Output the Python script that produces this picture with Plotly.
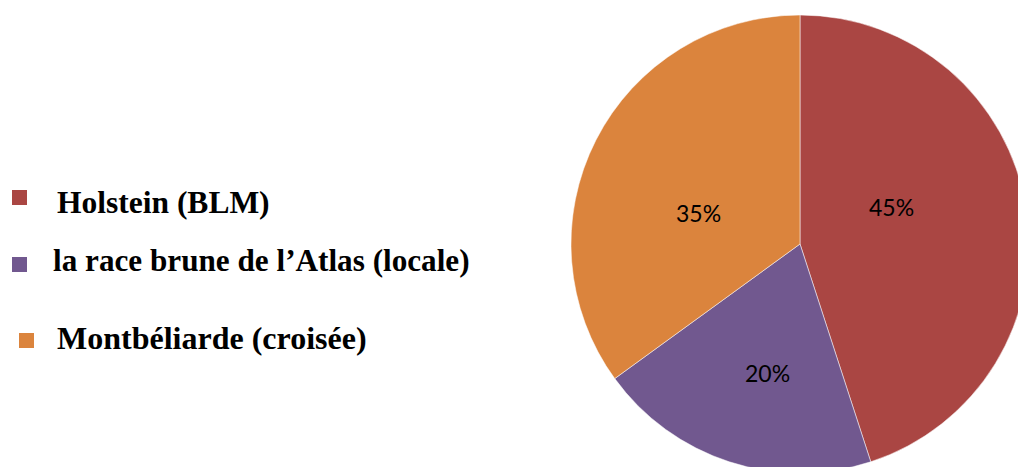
import plotly.graph_objects as go

# ---- data ----
categories = ["Holstein (BLM)", "la race brune de l\u2019Atlas (locale)", "Montbéliarde (croisée)"]
values = [45, 20, 35]
colors = ["#AA4643", "#71588F", "#DB843D"]

# ---- layout constants (pixels) ----
W, H = 1040, 480
pie_left, pie_right, pie_top, pie_bottom = 571, 1029, 15, 473

legend_text_x = [55, 51, 55]
legend_text_y = [202, 260, 338]
legend_font = [31.5, 31.2, 32]
legend_sq_x = [12, 12, 19]
legend_sq_y = [190, 257, 333]
SQ = 15

# pixel centres of the percentage labels
pct_label_x = [891, 767, 698]
pct_label_y = [207, 373, 213]

fig = go.Figure()
fig.add_trace(go.Pie(
    labels=categories,
    values=values,
    marker=dict(colors=colors, line=dict(color="rgba(255,255,255,0.5)", width=1)),
    sort=False,
    direction="clockwise",
    rotation=0,
    textinfo="none",
    showlegend=False,
    hoverinfo="label+percent",
    domain=dict(x=[pie_left / W, pie_right / W], y=[1 - pie_bottom / H, 1 - pie_top / H]),
))

total = sum(values)
shapes = []
annotations = []
for i, lab in enumerate(categories):
    shapes.append(dict(
        type="rect", xref="paper", yref="paper",
        x0=legend_sq_x[i] / W, x1=(legend_sq_x[i] + SQ) / W,
        y0=1 - (legend_sq_y[i] + SQ) / H, y1=1 - legend_sq_y[i] / H,
        fillcolor=colors[i], line=dict(width=0),
    ))
    annotations.append(dict(
        text="<b>" + lab + "</b>", xref="paper", yref="paper",
        x=legend_text_x[i] / W, y=1 - legend_text_y[i] / H,
        xanchor="left", yanchor="middle", showarrow=False,
        font=dict(family="Liberation Serif, Times New Roman, serif", size=legend_font[i], color="#000000"),
    ))
    annotations.append(dict(
        text=f"{round(100 * values[i] / total)}%", xref="paper", yref="paper",
        x=pct_label_x[i] / W, y=1 - pct_label_y[i] / H,
        xanchor="center", yanchor="middle", showarrow=False,
        font=dict(family="Lato, Open Sans, sans-serif", size=23, color="#000000"),
    ))

fig.update_layout(
    width=W, height=H,
    margin=dict(l=0, r=0, t=0, b=0),
    paper_bgcolor="white", plot_bgcolor="white",
    shapes=shapes, annotations=annotations,
)

fig.write_html("out.html", config={"displayModeBar": False},
               post_script="document.body.style.margin='0';document.body.style.overflow='hidden';")
